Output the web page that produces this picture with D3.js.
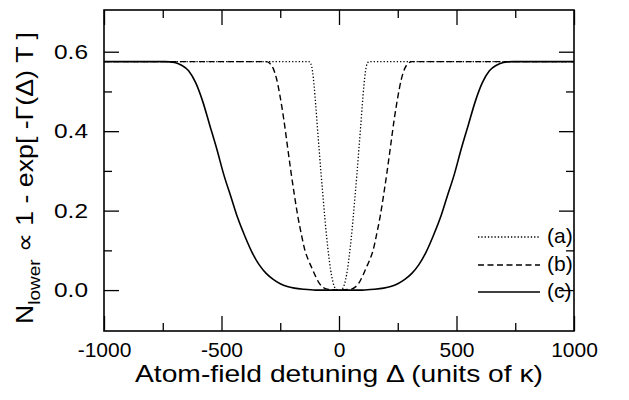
<!DOCTYPE html>
<html>
<head>
<meta charset="utf-8">
<script src="https://cdn.jsdelivr.net/npm/d3@7"></script>
<style>
  body { margin: 0; background: #fff; }
  text { font-family: "Liberation Sans", Arial, sans-serif; fill: #000; }
</style>
</head>
<body>
<div id="chart"></div>
<script>
// values (detuning in units of kappa, N_lower)
var deltaA = [-1000, -128, -120, -113, -106, -99, -92, -84, -76, -68, -60, -52, -44, -36, -28, -20, -12, 0,
              12, 20, 28, 36, 44, 52, 60, 68, 76, 84, 92, 99, 106, 113, 120, 128, 1000];
var valueA = [0.575, 0.575, 0.570, 0.552, 0.515, 0.465, 0.41, 0.35, 0.29, 0.235, 0.18, 0.13, 0.088, 0.052, 0.026, 0.009, 0.002, 0,
              0.002, 0.009, 0.026, 0.052, 0.088, 0.13, 0.18, 0.235, 0.29, 0.35, 0.41, 0.465, 0.515, 0.552, 0.570, 0.575, 0.575];

var deltaB = [-1000, -310, -295, -280, -265, -250, -235, -220, -205, -190, -175, -160, -145, -130, -115, -100, -85, -70, -55, 0,
              55, 70, 85, 100, 115, 130, 145, 160, 175, 190, 205, 220, 235, 250, 265, 280, 295, 310, 1000];
var valueB = [0.575, 0.575, 0.571, 0.558, 0.53, 0.485, 0.43, 0.365, 0.30, 0.24, 0.185, 0.14, 0.10, 0.075, 0.055, 0.035, 0.018, 0.008, 0.003, 0,
              0.003, 0.008, 0.018, 0.035, 0.055, 0.075, 0.10, 0.14, 0.185, 0.24, 0.30, 0.365, 0.43, 0.485, 0.53, 0.558, 0.571, 0.575, 0.575];

var deltaC = [-1000, -740, -700, -670, -640, -610, -580, -550, -520, -490, -460, -430, -400, -370, -340, -310, -280, -250, -220, -190, -150, -100, 0,
              100, 150, 190, 220, 250, 280, 310, 340, 370, 400, 430, 460, 490, 520, 550, 580, 610, 640, 670, 700, 740, 1000];
var valueC = [0.575, 0.575, 0.573, 0.566, 0.552, 0.522, 0.475, 0.415, 0.355, 0.29, 0.235, 0.18, 0.135, 0.095, 0.064, 0.042, 0.027, 0.016, 0.009, 0.005, 0.002, 0, 0,
              0, 0.002, 0.005, 0.009, 0.016, 0.027, 0.042, 0.064, 0.095, 0.135, 0.18, 0.235, 0.29, 0.355, 0.415, 0.475, 0.522, 0.552, 0.566, 0.573, 0.575, 0.575];

var xMajor = [-1000, -500, 0, 500, 1000];
var xMinor = [-750, -250, 250, 750];
var yMajor = [0.0, 0.2, 0.4, 0.6];
var yMinor = [0.1, 0.3, 0.5];
var legendLabels = ["(a)", "(b)", "(c)"];

// plot box
var margin = {top: 10, right: 55, bottom: 69, left: 104},
    width = 629 - margin.left - margin.right,
    height = 400 - margin.top - margin.bottom;

var svg = d3.select("#chart")
  .append("svg")
    .attr("width", 629)
    .attr("height", 400)
  .append("g")
    .attr("transform", "translate(" + margin.left + "," + margin.top + ")");

var x = d3.scaleLinear().domain([-1000, 1000]).range([0, width]);
var y = d3.scaleLinear().domain([-0.103, 0.705]).range([height, 0]);

// ticks, pointing inward on all four sides
function addAxis(axis, tr) {
  var g = svg.append("g").attr("transform", tr).call(axis);
  g.select(".domain").remove();
  g.selectAll("line").attr("stroke", "#000").attr("stroke-width", 1.3);
  g.selectAll("text").style("font-size", "21px").style("font-family", "'Liberation Sans', Arial, sans-serif");
  return g;
}

addAxis(d3.axisBottom(x).tickValues(xMajor).tickSize(-15).tickPadding(11).tickFormat(function(d) { return String(d); }),
        "translate(0," + height + ")");
addAxis(d3.axisBottom(x).tickValues(xMinor).tickSize(-8).tickFormat(""), "translate(0," + height + ")");
addAxis(d3.axisTop(x).tickValues(xMajor).tickSize(-15).tickFormat(""), "translate(0,0)");
addAxis(d3.axisTop(x).tickValues(xMinor).tickSize(-8).tickFormat(""), "translate(0,0)");

var yAx = addAxis(d3.axisLeft(y).tickValues(yMajor).tickSize(-15).tickPadding(16).tickFormat(function(d) { return d.toFixed(1); }),
        "translate(0,0)");
yAx.selectAll("text").attr("textLength", 34).attr("lengthAdjust", "spacingAndGlyphs");
addAxis(d3.axisLeft(y).tickValues(yMinor).tickSize(-8).tickFormat(""), "translate(0,0)");
addAxis(d3.axisRight(y).tickValues(yMajor).tickSize(-15).tickFormat(""), "translate(" + width + ",0)");
addAxis(d3.axisRight(y).tickValues(yMinor).tickSize(-8).tickFormat(""), "translate(" + width + ",0)");

// frame
svg.append("rect")
  .attr("x", 0).attr("y", 0)
  .attr("width", width).attr("height", height)
  .attr("fill", "none").attr("stroke", "#000").attr("stroke-width", 1.6);

var line = d3.line()
  .x(function(d) { return x(d[0]); })
  .y(function(d) { return y(d[1]); })
  .curve(d3.curveMonotoneX);

var series = [
  {delta: deltaA, value: valueA, dash: "1.3,2", w: 1.3},
  {delta: deltaB, value: valueB, dash: "6,3.5", w: 1.4},
  {delta: deltaC, value: valueC, dash: null, w: 1.6}
];

series.forEach(function(s) {
  var pts = s.delta.map(function(d, i) { return [d, s.value[i]]; });
  svg.append("path")
    .datum(pts)
    .attr("fill", "none")
    .attr("stroke", "#000")
    .attr("stroke-width", s.w)
    .attr("stroke-dasharray", s.dash)
    .attr("d", line);
});

// legend
var legendY = [227, 255, 282];
series.forEach(function(s, i) {
  svg.append("line")
    .attr("x1", 374).attr("x2", 436)
    .attr("y1", legendY[i]).attr("y2", legendY[i])
    .attr("stroke", "#000").attr("stroke-width", s.w)
    .attr("stroke-dasharray", s.dash);
  svg.append("text")
    .attr("x", 443).attr("y", legendY[i])
    .attr("dominant-baseline", "middle")
    .style("font-size", "21px")
    .text(legendLabels[i]);
});

// axis titles
svg.append("text")
  .attr("x", width / 2).attr("y", 372)
  .attr("text-anchor", "middle")
  .attr("textLength", 408).attr("lengthAdjust", "spacingAndGlyphs")
  .style("font-size", "24px")
  .text("Atom-field detuning \u0394 (units of \u03ba)");

var yt = svg.append("text")
  .attr("transform", "translate(-71,168) rotate(-90)")
  .attr("text-anchor", "middle")
  .attr("textLength", 292).attr("lengthAdjust", "spacingAndGlyphs")
  .style("font-size", "24px");
yt.append("tspan").text("N");
yt.append("tspan").attr("dy", 7).style("font-size", "17px").text("lower");
yt.append("tspan").attr("dy", -7).text(" \u221d 1 - exp[ -\u0393(\u0394) T ]");
</script>
</body>
</html>
